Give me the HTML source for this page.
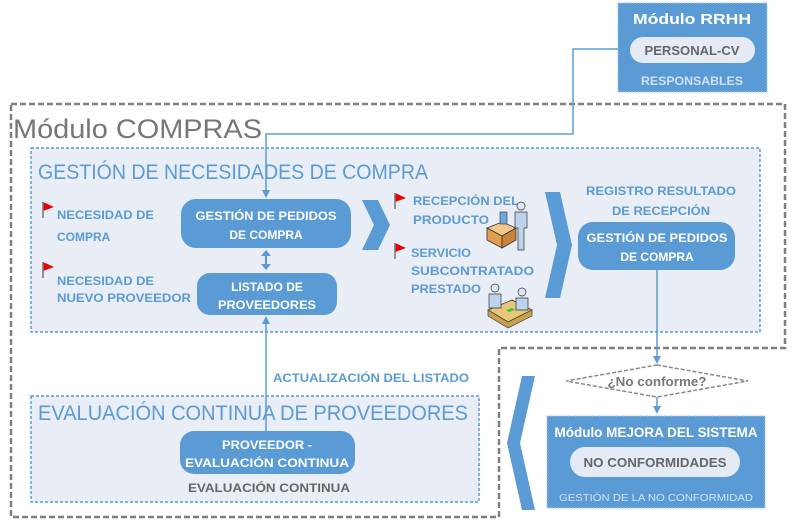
<!DOCTYPE html>
<html><head><meta charset="utf-8"><style>
html,body{margin:0;padding:0;background:#fff}
svg{display:block;font-family:"Liberation Sans",sans-serif}
.w{fill:#fff;font-weight:bold;font-size:12px}
.b{fill:#5b9bd5;font-weight:bold;font-size:12px}
</style></head><body>
<svg width="798" height="528" viewBox="0 0 798 528">
<defs>
<marker id="ah" markerWidth="8" markerHeight="8" refX="4" refY="4" orient="auto" markerUnits="userSpaceOnUse"><path d="M0,0 L8,4 L0,8 z" fill="#5b9bd5"/></marker>
</defs>
<!-- outer compras -->
<path d="M11,104 H785 V348 H499 V517 H11 Z" fill="none" stroke="#7f7f7f" stroke-width="2.5" stroke-dasharray="6,3"/>
<text x="13" y="138" font-size="27" fill="#767676" textLength="249" lengthAdjust="spacingAndGlyphs">Módulo COMPRAS</text>

<!-- RRHH -->
<rect x="618" y="3" width="149" height="89" fill="#5b9bd5" stroke="#9dc3e6" stroke-dasharray="2,1"/>
<text x="692" y="24" text-anchor="middle" fill="#fff" font-weight="bold" font-size="15" textLength="118" lengthAdjust="spacingAndGlyphs">Módulo RRHH</text>
<rect x="630" y="37" width="125" height="26" rx="13" fill="#e4ebf5"/>
<text x="692" y="55" text-anchor="middle" fill="#666" font-weight="bold" font-size="13" textLength="95" lengthAdjust="spacingAndGlyphs">PERSONAL-CV</text>
<text x="692" y="85" text-anchor="middle" fill="#cfe0f3" font-weight="bold" font-size="12" textLength="102" lengthAdjust="spacingAndGlyphs">RESPONSABLES</text>

<!-- gestion area -->
<rect x="31" y="148" width="729" height="184" fill="#e8edf6" stroke="#5b9bd5" stroke-width="1.5" stroke-dasharray="3,2"/>
<text x="38" y="179" font-size="21" fill="#5b9bd5" textLength="390" lengthAdjust="spacingAndGlyphs">GESTIÓN DE NECESIDADES DE COMPRA</text>

<!-- connector from RRHH -->
<path d="M618,49 H573 V134 H266 V194" fill="none" stroke="#5b9bd5" stroke-width="1.5" marker-end="url(#ah)"/>

<!-- flags -->
<g fill="#e00"><path d="M43,202 L54,207 L43,211z"/><path d="M43,262 L54,267 L43,271z"/><path d="M395,193 L406,198 L395,202z"/><path d="M395,243 L406,248 L395,252z"/></g>
<g stroke="#777" stroke-width="1.5"><path d="M43,202 V218"/><path d="M43,262 V278"/><path d="M395,193 V209"/><path d="M395,243 V259"/></g>
<text class="b" x="57" y="219" textLength="97" lengthAdjust="spacingAndGlyphs">NECESIDAD DE</text>
<text class="b" x="57" y="241">COMPRA</text>
<text class="b" x="57" y="285" textLength="97" lengthAdjust="spacingAndGlyphs">NECESIDAD DE</text>
<text class="b" x="57" y="302" textLength="134" lengthAdjust="spacingAndGlyphs">NUEVO PROVEEDOR</text>

<rect x="181" y="199" width="170" height="49" rx="15" fill="#5b9bd5"/>
<text class="w" x="266" y="220" text-anchor="middle" textLength="141" lengthAdjust="spacingAndGlyphs">GESTIÓN DE PEDIDOS</text>
<text class="w" x="266" y="239" text-anchor="middle">DE COMPRA</text>
<path d="M266,252 V268" stroke="#5b9bd5" stroke-width="2"/>
<path d="M261,256 L266,250 L271,256z M261,264 L266,270 L271,264z" fill="#5b9bd5"/>
<rect x="197" y="273" width="140" height="42" rx="13" fill="#5b9bd5"/>
<text class="w" x="267" y="291" text-anchor="middle">LISTADO DE</text>
<text class="w" x="267" y="309" text-anchor="middle" textLength="98" lengthAdjust="spacingAndGlyphs">PROVEEDORES</text>

<!-- chevrons -->
<path d="M362,200 H378 L390,225 L378,250 H362 L374,225 Z" fill="#5b9bd5"/>
<path d="M545,192 H560 L572,245 L560,298 H545 L557,245 Z" fill="#5b9bd5"/>
<path d="M535,376 H522 L507,443 L522,510 H535 L520,443 Z" fill="#5b9bd5"/>

<text class="b" x="413" y="205" textLength="106" lengthAdjust="spacingAndGlyphs">RECEPCIÓN DEL</text>
<text class="b" x="413" y="224" textLength="76" lengthAdjust="spacingAndGlyphs">PRODUCTO</text>
<text class="b" x="411" y="257" textLength="60" lengthAdjust="spacingAndGlyphs">SERVICIO</text>
<text class="b" x="411" y="275" textLength="123" lengthAdjust="spacingAndGlyphs">SUBCONTRATADO</text>
<text class="b" x="411" y="293" textLength="70" lengthAdjust="spacingAndGlyphs">PRESTADO</text>

<!-- icons -->
<g>
<path d="M487,228 L502,222 L516,228 L502,236 Z" fill="#f2c78a" stroke="#333" stroke-width="0.8"/>
<path d="M487,228 V240 L502,248 V236 Z" fill="#e0a050" stroke="#333" stroke-width="0.8"/>
<path d="M502,236 V248 L516,240 V228 Z" fill="#c8843a" stroke="#333" stroke-width="0.8"/>
<rect x="500" y="212" width="7" height="12" fill="#6fa8dc" stroke="#333" stroke-width="0.6"/>
<circle cx="521" cy="206" r="4" fill="#dbe8f5" stroke="#333" stroke-width="0.7"/>
<path d="M515,212 h12 v16 h-3 v22 h-6 v-22 h-3z" fill="#bcd3ea" stroke="#333" stroke-width="0.7"/>
<path d="M488,310 L512,300 L532,310 L508,322 Z" fill="#e8c878" stroke="#333" stroke-width="0.8"/>
<path d="M488,310 V316 L508,328 L532,316 V310 L508,322 Z" fill="#c8a050" stroke="#333" stroke-width="0.6"/>
<circle cx="495" cy="288" r="4" fill="#dbe8f5" stroke="#333" stroke-width="0.7"/>
<path d="M489,294 h12 v14 h-12z" fill="#bcd3ea" stroke="#333" stroke-width="0.7"/>
<circle cx="522" cy="292" r="4" fill="#dbe8f5" stroke="#333" stroke-width="0.7"/>
<path d="M516,298 h12 v12 h-12z" fill="#bcd3ea" stroke="#333" stroke-width="0.7"/>
<path d="M506,310 l6,-2 3,2 -6,2z" fill="#3c3"/>
</g>

<text class="b" x="661" y="195" text-anchor="middle" textLength="150" lengthAdjust="spacingAndGlyphs">REGISTRO RESULTADO</text>
<text class="b" x="661" y="215" text-anchor="middle" textLength="98" lengthAdjust="spacingAndGlyphs">DE RECEPCIÓN</text>
<rect x="578" y="222" width="157" height="48" rx="15" fill="#5b9bd5"/>
<text class="w" x="657" y="242" text-anchor="middle" textLength="141" lengthAdjust="spacingAndGlyphs">GESTIÓN DE PEDIDOS</text>
<text class="w" x="657" y="261" text-anchor="middle">DE COMPRA</text>

<path d="M657,270 V360" stroke="#5b9bd5" stroke-width="1.5" marker-end="url(#ah)"/>
<path d="M657,365 L748,381 L657,397 L566,381 Z" fill="#fff" stroke="#888" stroke-width="1.5" stroke-dasharray="4,2"/>
<text x="657" y="386" text-anchor="middle" fill="#777" font-weight="bold" font-size="13" textLength="99" lengthAdjust="spacingAndGlyphs">¿No conforme?</text>
<path d="M657,397 V410" stroke="#5b9bd5" stroke-width="1.5" marker-end="url(#ah)"/>

<rect x="547" y="416" width="218" height="92" fill="#5b9bd5" stroke="#9dc3e6" stroke-dasharray="2,1"/>
<text x="656" y="437" text-anchor="middle" fill="#fff" font-weight="bold" font-size="14" textLength="203" lengthAdjust="spacingAndGlyphs">Módulo MEJORA DEL SISTEMA</text>
<rect x="570" y="447" width="170" height="30" rx="15" fill="#e4ebf5"/>
<text x="655" y="467" text-anchor="middle" fill="#666" font-weight="bold" font-size="13" textLength="143" lengthAdjust="spacingAndGlyphs">NO CONFORMIDADES</text>
<text x="656" y="501" text-anchor="middle" fill="#cfe0f3" font-size="10" textLength="194" lengthAdjust="spacingAndGlyphs">GESTIÓN DE LA NO CONFORMIDAD</text>

<!-- evaluacion -->
<rect x="31" y="396" width="448" height="106" fill="#e8edf6" stroke="#5b9bd5" stroke-width="1.5" stroke-dasharray="3,2"/>
<text x="38" y="420" font-size="21" fill="#5b9bd5" textLength="430" lengthAdjust="spacingAndGlyphs">EVALUACIÓN CONTINUA DE PROVEEDORES</text>
<text class="b" x="273" y="382" textLength="196" lengthAdjust="spacingAndGlyphs">ACTUALIZACIÓN DEL LISTADO</text>
<path d="M266,431 V320" stroke="#5b9bd5" stroke-width="1.5" marker-end="url(#ah)"/>
<rect x="180" y="431" width="175" height="43" rx="14" fill="#5b9bd5"/>
<text class="w" x="267" y="449" text-anchor="middle" textLength="90" lengthAdjust="spacingAndGlyphs">PROVEEDOR -</text>
<text class="w" x="267" y="467" text-anchor="middle" textLength="164" lengthAdjust="spacingAndGlyphs">EVALUACIÓN CONTINUA</text>
<text x="269" y="492" text-anchor="middle" fill="#666" font-weight="bold" font-size="12" textLength="162" lengthAdjust="spacingAndGlyphs">EVALUACIÓN CONTINUA</text>
</svg>
</body></html>
